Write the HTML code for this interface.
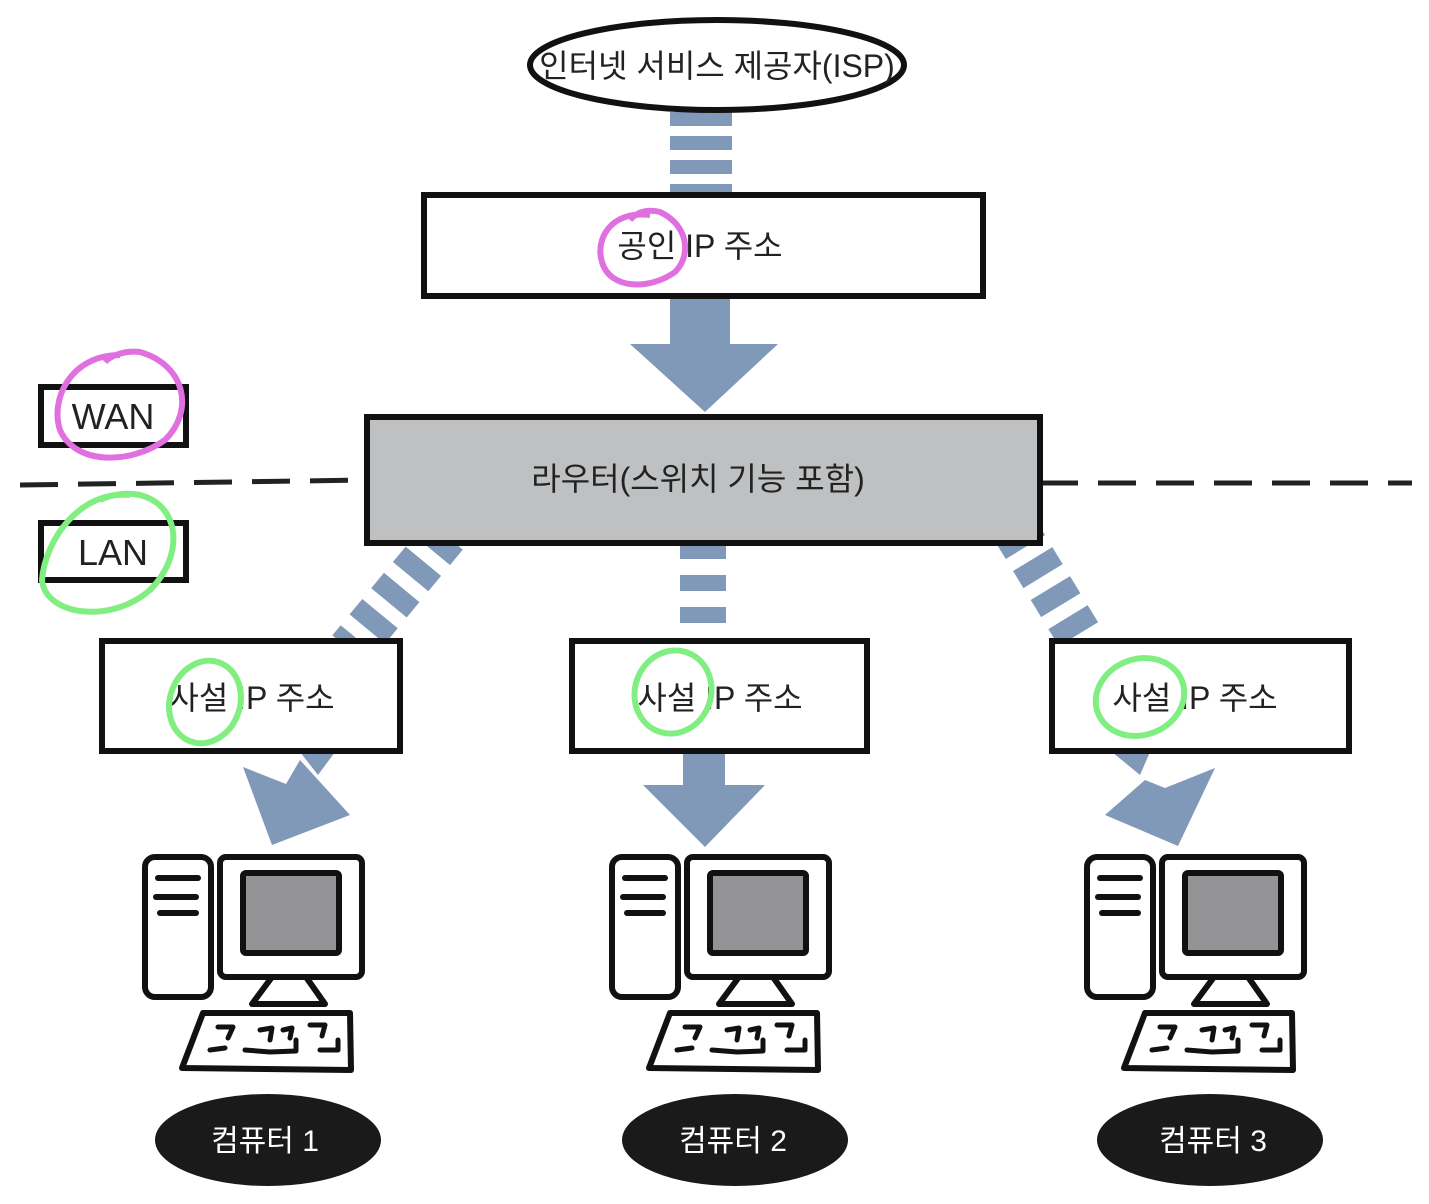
<!DOCTYPE html>
<html><head><meta charset="utf-8"><style>
body{margin:0;background:#fff}
svg{display:block}
text{font-family:"Liberation Sans","Noto Sans CJK KR",sans-serif}
</style></head><body>
<svg width="1429" height="1204" viewBox="0 0 1429 1204" xmlns="http://www.w3.org/2000/svg">
<defs>
<g id="pc" stroke="#111" stroke-width="6" stroke-linejoin="round" stroke-linecap="round">
  <rect x="145" y="857" width="66" height="140" rx="10" fill="#fff"/>
  <line x1="158" y1="878" x2="198" y2="878"/>
  <line x1="156" y1="897" x2="196" y2="897"/>
  <line x1="160" y1="913" x2="196" y2="913"/>
  <rect x="220" y="857" width="142" height="120" rx="6" fill="#fff"/>
  <rect x="243" y="873" width="96" height="80" rx="3" fill="#939395"/>
  <path d="M272 977 L306 977 L325 1004 L252 1004 Z" fill="#fff"/>
  <path d="M203 1013 L350 1013 L351 1070 L182 1068 Z" fill="#fff"/>
  <path d="M218 1027 L233 1027 L228 1038 M260 1030 L272 1028 L270 1040 M283 1030 L292 1028 L290 1038 M310 1025 L325 1025 L322 1036 M210 1050 L225 1048 M245 1050 L270 1052 L296 1051 L296 1040 M320 1050 L338 1050 L338 1040" fill="none" stroke-width="5"/>
</g>
</defs>
<!-- arrows -->
<g fill="#8099b8" stroke="none">
  <line x1="701" y1="112" x2="701" y2="196" stroke="#8099b8" stroke-width="62" stroke-dasharray="14,10"/>
  <rect x="670" y="295" width="60" height="52"/>
  <path d="M630 344 L778 344 L705 412 Z"/>
  <line x1="703" y1="543" x2="703" y2="642" stroke="#8099b8" stroke-width="46" stroke-dasharray="16,16"/>
  <rect x="683" y="752" width="42" height="34"/>
  <path d="M643 785 L765 785 L705 847 Z"/>
  <line x1="445" y1="535" x2="350" y2="650" stroke="#8099b8" stroke-width="46" stroke-dasharray="20,14"/>
  <path d="M300 752 L335 752 L318 775 Z"/>
  <path d="M243 767 L286 784 L300 760 L350 815 L272 845 Z"/>
  <line x1="1015" y1="530" x2="1085" y2="645" stroke="#8099b8" stroke-width="46" stroke-dasharray="20,14"/>
  <path d="M1112 752 L1150 752 L1140 775 Z"/>
  <path d="M1105 815 L1145 780 L1165 788 L1215 768 L1178 846 Z"/>
</g>
<!-- dashed line -->
<line x1="20" y1="485" x2="367" y2="480" stroke="#222" stroke-width="5" stroke-dasharray="38,20"/>
<line x1="1040" y1="483" x2="1412" y2="483" stroke="#222" stroke-width="5" stroke-dasharray="38,20"/>
<!-- ISP -->
<ellipse cx="717" cy="65" rx="187" ry="45" fill="#fff" stroke="#111" stroke-width="6"/>
<text x="717" y="77" font-size="32" text-anchor="middle" fill="#222">인터넷 서비스 제공자(ISP)</text>
<!-- public box -->
<rect x="424" y="195" width="559" height="101" fill="#fff" stroke="#111" stroke-width="6"/>
<text x="700" y="257" font-size="32" text-anchor="middle" fill="#222">공인 IP 주소</text>
<path d="M650 215 C610 210 595 240 602 262 C610 290 650 290 675 272 C692 255 688 225 660 212 C645 208 635 214 630 220" fill="none" stroke="#e070e0" stroke-width="6"/>
<!-- router -->
<rect x="367" y="417" width="673" height="126" fill="#bfc0c2" stroke="#111" stroke-width="6"/>
<text x="698" y="490" font-size="32" text-anchor="middle" fill="#222">라우터(스위치 기능 포함)</text>
<!-- WAN LAN -->
<rect x="41" y="387" width="145" height="58" fill="#fff" stroke="#111" stroke-width="6"/>
<text x="113" y="429" font-size="36" text-anchor="middle" fill="#222">WAN</text>
<path d="M120 355 C70 355 50 400 60 430 C75 465 130 465 165 440 C195 410 185 365 140 352 C125 350 110 356 105 362" fill="none" stroke="#e070e0" stroke-width="6"/>
<rect x="41" y="523" width="145" height="57" fill="#fff" stroke="#111" stroke-width="6"/>
<text x="113" y="565" font-size="36" text-anchor="middle" fill="#222">LAN</text>
<path d="M130 495 C80 490 45 540 42 580 C45 615 110 625 150 590 C185 555 180 505 140 495 C125 492 110 495 100 500" fill="none" stroke="#80ee80" stroke-width="6"/>
<!-- private boxes -->
<g fill="#fff" stroke="#111" stroke-width="6">
<rect x="102" y="641" width="298" height="110"/>
<rect x="572" y="641" width="295" height="110"/>
<rect x="1052" y="641" width="297" height="110"/>
</g>
<g font-size="32" text-anchor="middle" fill="#222">
<text x="252" y="709">사설 IP 주소</text>
<text x="720" y="709">사설 IP 주소</text>
<text x="1195" y="709">사설 IP 주소</text>
</g>
<g fill="none" stroke="#80ee80" stroke-width="6">
<ellipse cx="205" cy="702" rx="35" ry="42" transform="rotate(20 205 702)"/>
<ellipse cx="673" cy="692" rx="38" ry="42" transform="rotate(20 673 692)"/>
<ellipse cx="1140" cy="697" rx="45" ry="38" transform="rotate(-20 1140 697)"/>
</g>
<!-- computers -->
<use href="#pc"/>
<use href="#pc" transform="translate(467 0)"/>
<use href="#pc" transform="translate(942 0)"/>
<ellipse cx="268" cy="1140" rx="113" ry="46" fill="#1a1a1a"/>
<ellipse cx="735" cy="1140" rx="113" ry="46" fill="#1a1a1a"/>
<ellipse cx="1210" cy="1140" rx="113" ry="46" fill="#1a1a1a"/>
<g font-size="30" text-anchor="middle" fill="#fff">
<text x="265" y="1151">컴퓨터 1</text>
<text x="733" y="1151">컴퓨터 2</text>
<text x="1213" y="1151">컴퓨터 3</text>
</g>
</svg>
</body></html>
